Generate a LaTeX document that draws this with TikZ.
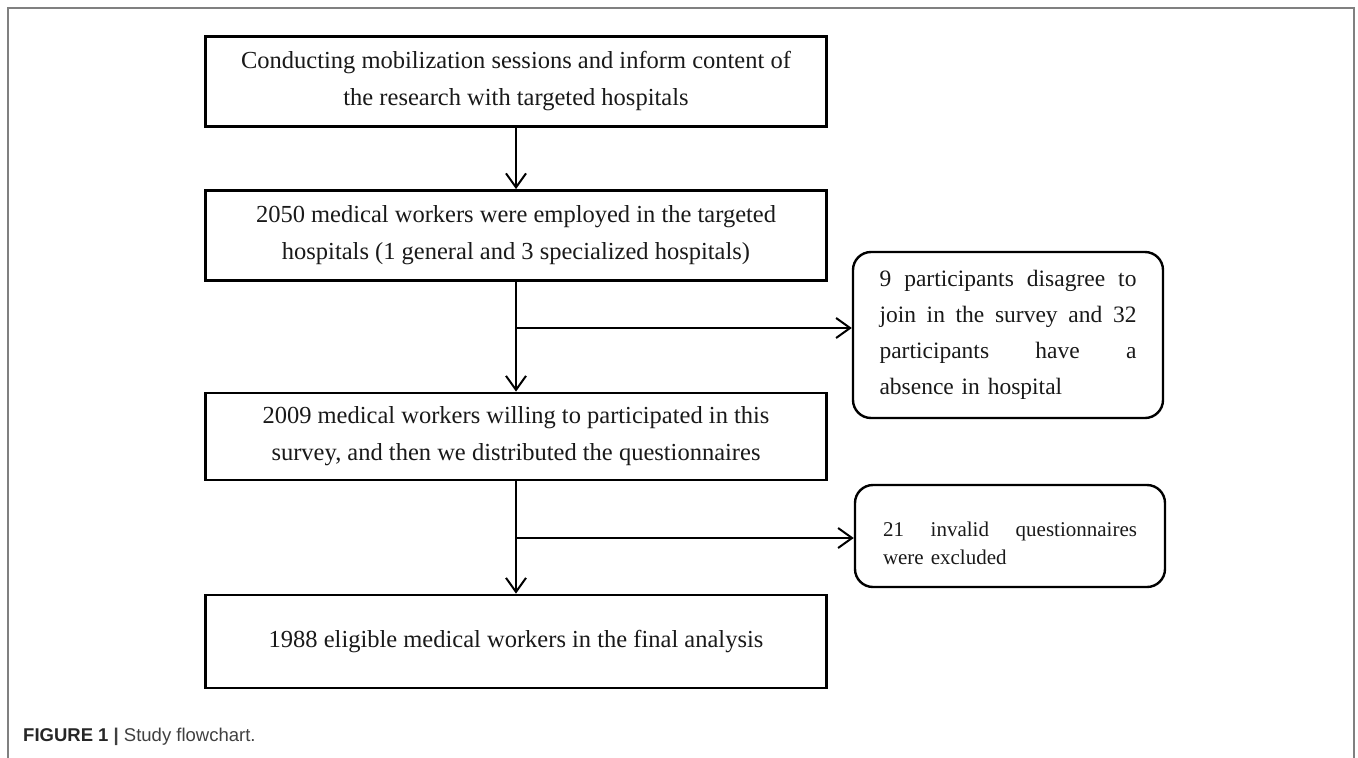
\documentclass[tikz,border=0pt]{standalone}
\usepackage{fontspec}
\setmainfont{Liberation Serif}
\setsansfont{Liberation Sans}
\usetikzlibrary{arrows.meta}

\begin{document}
\begin{tikzpicture}[x=1pt, y=-1pt, >={Straight Barb[length=14pt,width=20pt]},
		box_style/.style={rectangle,draw=black,line width=2.8pt,minimum width=621pt,minimum height=90pt,inner sep=0pt,align=center,text=black!90,font=\fontsize{24.5}{37}\selectfont},
		side_style/.style={rectangle,rounded corners=18pt,draw=black,line width=2.4pt,minimum width=310pt,inner sep=0pt,align=left,text=black!90},
		edge_style/.style={draw=black,line width=2pt},
		frame_style/.style={draw=black!50,line width=1.5pt}]

		\useasboundingbox (0,0) rectangle (1358,758);
		\draw[frame_style] (8,758) -- (8,8) -- (1354,8) -- (1354,758);

		\node[box_style] (n1) at (516,81.5) {Conducting mobilization sessions and inform content of\\the research with targeted hospitals};
		\node[box_style] (n2) at (516,235.5) {2050 medical workers were employed in the targeted\\hospitals (1 general and 3 specialized hospitals)};
		\node[box_style,minimum height=87pt] (n3) at (516,436.5) {2009 medical workers willing to participated in this\\survey, and then we distributed the questionnaires};
		\node[box_style,minimum height=93pt] (n5) at (516,641.5) {1988 eligible medical workers in the final analysis};

		\node[side_style,minimum height=166pt,text width=257pt,font=\fontsize{23.5}{36}\selectfont] (n4) at (1008,335) {\makebox[257pt]{9\hfill participants\hfill disagree\hfill to}\\\makebox[257pt]{join\hfill in\hfill the\hfill survey\hfill and\hfill 32}\\\makebox[257pt]{participants\hfill have\hfill a}\\absence in hospital};
		\node[side_style,minimum height=102pt,text width=254pt,font=\fontsize{21}{28}\selectfont] (n6) at (1010,536) {\rule{0pt}{30pt}\makebox[254pt]{21\hfill invalid\hfill questionnaires}\\were excluded};

		\coordinate (b1) at (516,328);
		\coordinate (b2) at (516,538);

		\draw[edge_style,->]  (n1) -- (n2);
		\draw[edge_style,->]  (n2) -- (n3);
		\draw[edge_style,->]  (b1) -- (b1 -| n4.west);
		\draw[edge_style,->]  (n3) -- (n5);
		\draw[edge_style,->]  (b2) -- (b2 -| n6.west);

		\node[anchor=west,inner sep=0pt,font=\sffamily\fontsize{18.5}{20}\selectfont,text=black!75] (cap) at (23,737) {\textbf{\color{black!85}FIGURE 1} \textbf{|} Study flowchart.};

\end{tikzpicture}
\end{document}
